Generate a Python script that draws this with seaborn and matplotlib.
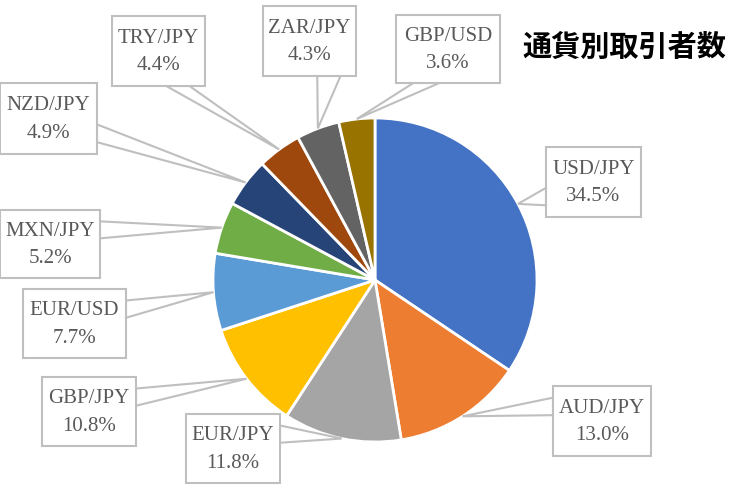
import matplotlib
matplotlib.use("Agg")
import numpy as np
import matplotlib.pyplot as plt
import seaborn as sns
from matplotlib.patches import Rectangle, Polygon

# data
pairs = ["USD/JPY", "AUD/JPY", "EUR/JPY", "GBP/JPY", "EUR/USD",
         "MXN/JPY", "NZD/JPY", "TRY/JPY", "ZAR/JPY", "GBP/USD"]
shares = [34.5, 13.0, 11.8, 10.8, 7.7, 5.2, 4.9, 4.4, 4.3, 3.6]
slice_colors = ["#4472C4", "#ED7D31", "#A5A5A5", "#FFC000", "#5B9BD5",
                "#70AD47", "#264478", "#9E480E", "#636363", "#997300"]
title = "通貨別取引者数"

# callout boxes in pixel coords (left, top, right, bottom)
label_boxes = [
    (546, 147, 641, 217),
    (553, 386, 651, 456),
    (186, 414, 280, 483),
    (42, 377, 136, 446),
    (23, 289, 126, 358),
    (0, 210, 100, 278),
    (0, 83, 97, 154),
    (112, 16, 205, 86),
    (263, 6, 356, 76),
    (396, 15, 500, 83),
]

CENTER = (375, 280)
RADIUS = 162
BOX_EDGE = "#BFBFBF"
TEXT_COLOR = "#595959"


def pointer_base(box, tip):
    # base of an Excel-style wedge callout, on the box side facing the tip
    l, t, r, b = box
    w, h = r - l, b - t
    cx, cy = (l + r) / 2, (t + b) / 2
    dx, dy = (tip[0] - cx) / w, (tip[1] - cy) / h
    if abs(dx) > abs(dy):
        x = r if dx > 0 else l
        f = (7 / 12, 10 / 12) if dy > 0 else (2 / 12, 5 / 12)
        return (x, t + f[0] * h), (x, t + f[1] * h)
    y = b if dy > 0 else t
    f = (7 / 12, 10 / 12) if dx > 0 else (2 / 12, 5 / 12)
    return (l + f[0] * w, y), (l + f[1] * w, y)


sns.set_theme(style="white")
plt.rcParams['font.family'] = ['Liberation Serif', 'DejaVu Serif']

fig = plt.figure(figsize=(7.5, 4.92), dpi=100)
ax = fig.add_axes([0, 0, 1, 1])

# y axis is inverted below, so start at -90 and go counterclockwise in data
# coords to get a clockwise pie starting at 12 o'clock
wedges, _ = ax.pie(shares, colors=sns.color_palette(slice_colors),
                   startangle=-90, counterclock=True,
                   center=CENTER, radius=RADIUS,
                   wedgeprops=dict(edgecolor="white", linewidth=2))

ax.set_xlim(0, 750)
ax.set_ylim(492, 0)
ax.set_aspect("equal")
ax.axis("off")

for wedge, name, share, box in zip(wedges, pairs, shares, label_boxes):
    mid = np.deg2rad((wedge.theta1 + wedge.theta2) / 2)
    tip = (CENTER[0] + RADIUS * np.cos(mid), CENTER[1] + RADIUS * np.sin(mid))
    p1, p2 = pointer_base(box, tip)
    ax.add_patch(Polygon([p1, tip, p2], closed=True, facecolor="white",
                         edgecolor=BOX_EDGE, linewidth=1.5, zorder=3))
    l, t, r, b = box
    ax.add_patch(Rectangle((l, t), r - l, b - t, facecolor="white",
                           edgecolor=BOX_EDGE, linewidth=1.5, zorder=4))
    ax.text((l + r) / 2, (t + b) / 2 + 1, f"{name}\n{share:.1f}%",
            ha="center", va="center", fontsize=15, color=TEXT_COLOR,
            linespacing=1.6, zorder=5)

ax.text(624, 47, title, ha="center", va="center", fontsize=21,
        fontweight="bold", color="black",
        family=['Noto Sans CJK JP', 'DejaVu Sans'])

fig.savefig("out.png", dpi=100)
